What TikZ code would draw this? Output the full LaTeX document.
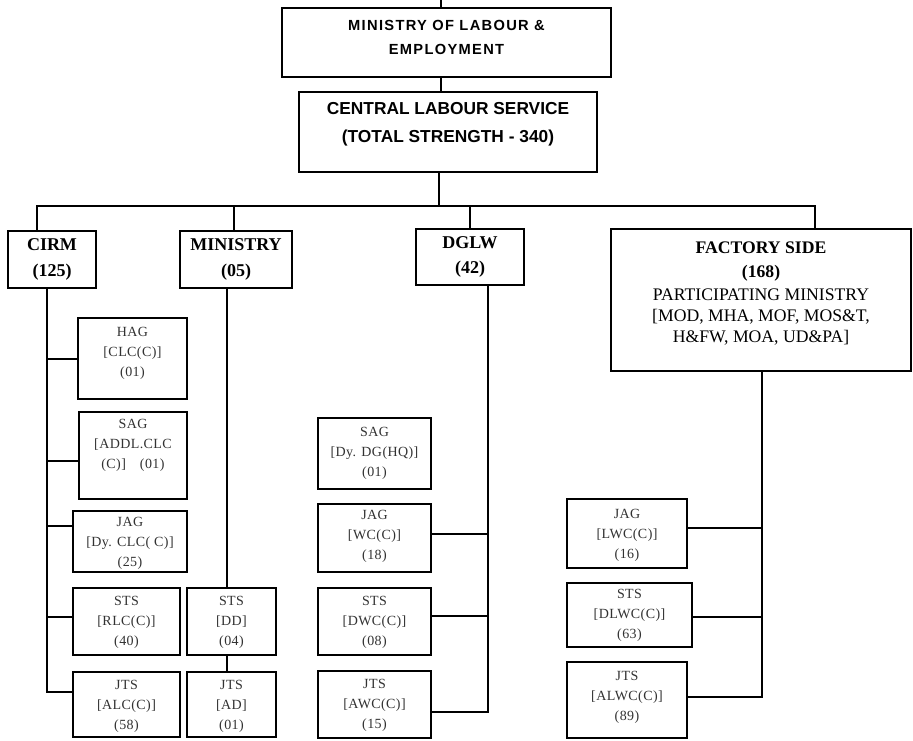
\documentclass[tikz,border=0pt]{standalone}
\usepackage{fontspec}
\setmainfont{Liberation Serif}
\newfontfamily\hdr[LetterSpace=9]{Liberation Sans}
\newfontfamily\hdrb{Liberation Sans}
\newfontfamily\sml[LetterSpace=3]{Liberation Serif}
\usetikzlibrary{fit}
\definecolor{txtgray}{RGB}{50,50,50}
\tikzset{
  box/.style={draw, line width=1pt, inner sep=0pt},
  conn/.style={line width=1pt},
  toptxt/.style={align=center, font=\hdr\bfseries\fontsize{11}{18}\selectfont},
  clstxt/.style={align=center, font=\hdrb\bfseries\fontsize{13}{21}\selectfont},
  headtxt/.style={align=center, font=\bfseries\fontsize{13.5}{19}\selectfont},
  facttxt/.style={align=center, font=\fontsize{13.25}{16}\selectfont},
  smalltxt/.style={align=center, text=txtgray, font=\sml\fontsize{10.5}{15}\selectfont},
}
\newcommand\obox[5]{\node[box, fit={(#2,#3) (#4,#5)}] (#1) {};}
\begin{document}
\begin{tikzpicture}[x=0.75pt,y=-0.75pt]
\useasboundingbox (0,0) rectangle (913,740);
% top level boxes
\obox{mole}{282}{8}{611}{77}
\node[toptxt] (molet) at (mole.center |- 0,37) {MINISTRY OF LABOUR \&\\EMPLOYMENT};
\obox{cls}{299}{92}{597}{172}
\node[clstxt] (clst) at (cls.center |- 0,124) {CENTRAL LABOUR SERVICE\\(TOTAL STRENGTH - 340)};
% second level
\obox{cirm}{8}{231}{96}{288}
\node[headtxt] (cirmt) at (cirm.center) {CIRM\\(125)};
\obox{min}{180}{231}{292}{288}
\node[headtxt] (mint) at (min.center) {MINISTRY\\(05)};
\obox{dglw}{416}{229}{524}{285}
\node[headtxt] (dglwt) at (dglw.center) {DGLW\\(42)};
\obox{fact}{611}{229}{911}{371}
\node[facttxt, anchor=north] (factt) at (fact.north |- 0,237) {\textbf{FACTORY SIDE}\\[2pt]\textbf{(168)}\\[1pt]PARTICIPATING MINISTRY\\{}[MOD, MHA, MOF, MOS\&T,\\H\&FW, MOA, UD\&PA]};
% CIRM column
\obox{hag}{78}{318}{187}{399}
\node[smalltxt] (hagt) at (hag.center |- 0,353) {HAG\\{}[CLC(C)]\\(01)};
\obox{sagA}{79}{412}{187}{499}
\node[smalltxt] (sagAt) at (sagA.center |- 0,445) {SAG\\{}[ADDL.CLC\\(C)]\quad(01)};
\obox{jagA}{73}{511}{187}{572}
\node[smalltxt] (jagAt) at (jagA.center |- 0,543) {JAG\\{}[Dy. CLC( C)]\\(25)};
\obox{stsA}{73}{588}{180}{655}
\node[smalltxt] (stsAt) at (stsA.center |- 0,622) {STS\\{}[RLC(C)]\\(40)};
\obox{jtsA}{73}{672}{180}{737}
\node[smalltxt] (jtsAt) at (jtsA.center |- 0,706) {JTS\\{}[ALC(C)]\\(58)};
% Ministry column
\obox{stsB}{187}{588}{276}{655}
\node[smalltxt] (stsBt) at (stsB.center |- 0,622) {STS\\{}[DD]\\(04)};
\obox{jtsB}{187}{672}{276}{737}
\node[smalltxt] (jtsBt) at (jtsB.center |- 0,706) {JTS\\{}[AD]\\(01)};
% DGLW column
\obox{sagD}{318}{418}{431}{489}
\node[smalltxt] (sagDt) at (sagD.center |- 0,453) {SAG\\{}[Dy. DG(HQ)]\\(01)};
\obox{jagD}{318}{504}{431}{572}
\node[smalltxt] (jagDt) at (jagD.center |- 0,536) {JAG\\{}[WC(C)]\\(18)};
\obox{stsD}{318}{588}{431}{655}
\node[smalltxt] (stsDt) at (stsD.center |- 0,622) {STS\\{}[DWC(C)]\\(08)};
\obox{jtsD}{318}{671}{431}{738}
\node[smalltxt] (jtsDt) at (jtsD.center |- 0,705) {JTS\\{}[AWC(C)]\\(15)};
% Factory column
\obox{jagF}{567}{499}{687}{568}
\node[smalltxt] (jagFt) at (jagF.center |- 0,535) {JAG\\{}[LWC(C)]\\(16)};
\obox{stsF}{567}{583}{692}{647}
\node[smalltxt] (stsFt) at (stsF.center |- 0,615) {STS\\{}[DLWC(C)]\\(63)};
\obox{jtsF}{567}{662}{687}{738}
\node[smalltxt] (jtsFt) at (jtsF.center |- 0,697) {JTS\\{}[ALWC(C)]\\(89)};
% connectors top
\coordinate (topend) at (441,0);
\draw[conn] (topend |- mole.north) -- (topend);
\draw[conn] (topend |- mole.south) -- (topend |- cls.north);
\coordinate (busc) at (439,206);
\draw[conn] (busc |- cls.south) -- (busc);
\coordinate (bL) at (37,206);
\coordinate (bR) at (815,206);
\coordinate (bM) at (234,206);
\coordinate (bD) at (470,206);
\draw[conn] (bL |- cirm.north) -- (bL) -- (bR) -- (bR |- fact.north);
\draw[conn] (bM) -- (bM |- min.north);
\draw[conn] (bD) -- (bD |- dglw.north);
% CIRM spine
\coordinate (cs) at (47,692);
\draw[conn] (cs |- cirm.south) -- (cs) -- (jtsA.west |- cs);
\draw[conn] (cs |- 0,359) -- (hag.west |- 0,359);
\draw[conn] (cs |- 0,461) -- (sagA.west |- 0,461);
\draw[conn] (cs |- 0,526) -- (jagA.west |- 0,526);
\draw[conn] (cs |- 0,617) -- (stsA.west |- 0,617);
% Ministry spine
\coordinate (ms) at (227,0);
\draw[conn] (ms |- min.south) -- (ms |- stsB.north);
\draw[conn] (ms |- stsB.south) -- (ms |- jtsB.north);
% DGLW spine
\coordinate (ds) at (488,712);
\draw[conn] (ds |- dglw.south) -- (ds) -- (jtsD.east |- ds);
\draw[conn] (ds |- 0,534) -- (jagD.east |- 0,534);
\draw[conn] (ds |- 0,616) -- (stsD.east |- 0,616);
% Factory spine
\coordinate (fs) at (762,697);
\draw[conn] (fs |- fact.south) -- (fs) -- (jtsF.east |- fs);
\draw[conn] (fs |- 0,528) -- (jagF.east |- 0,528);
\draw[conn] (fs |- 0,617) -- (stsF.east |- 0,617);
\end{tikzpicture}
\end{document}
